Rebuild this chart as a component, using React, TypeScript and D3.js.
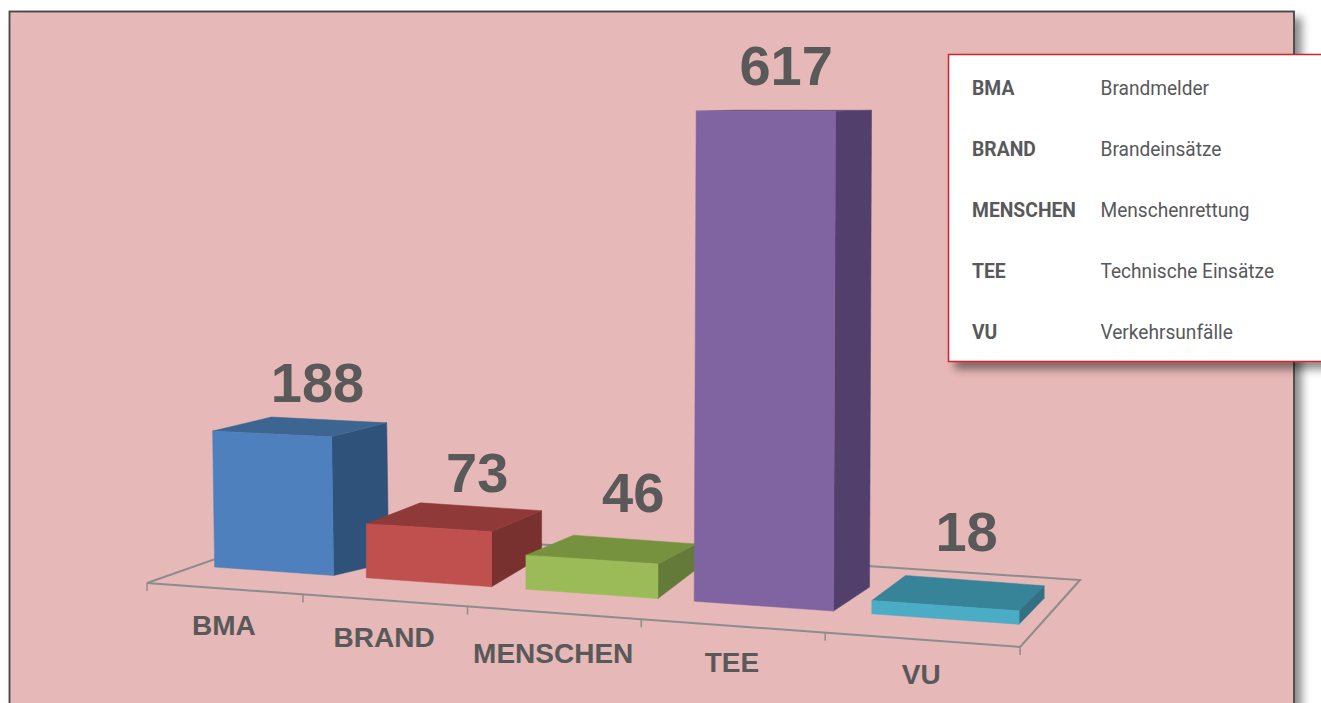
import React from "react";
import * as d3 from "d3";

const categories = ["BMA", "BRAND", "MENSCHEN", "TEE", "VU"];
const values = [188, 73, 46, 617, 18];
const legendCodes = ["BMA", "BRAND", "MENSCHEN", "TEE", "VU"];
const legendNames = ["Brandmelder", "Brandeinsätze", "Menschenrettung", "Technische Einsätze", "Verkehrsunfälle"];
const frontColors = ["#4d80bd", "#c0504d", "#9bbb59", "#8064a2", "#4bacc6"];
const sideColors = ["#2f527b", "#79312f", "#647a39", "#533f6b", "#327082"];
const topColors = ["#3c6591", "#8f3a38", "#76923f", "#5f4a7a", "#378398"];

// per-bar layout offsets (perspective of the original 3D view)
const labelDx = [44, 49, 42, 23, 22];
const labelDy = [-29, -32, -43, -26, -50];
const categoryDy = [46, 47, 50, 46, 44];
const topSkew = [-2, 0, 0, 2, 0];
const depthTopY = [-14, -21, -20, -1, -25];
const depthBottomY = [-13, -30, -29, -24, -26];

const W = 1321;
const H = 703;

// floor's front edge, foreshortened
const frontX = (u: number) => 147 + (759.6 * u) / (1 - 0.13 * u);
const floorFrontY = (x: number) => 583 + (x - 147) * 0.0733;
const barBaseY = (x: number) => 567 + (x - 214) * 0.0712;

const uScale = d3.scaleBand<string>().domain(categories).range([0.088, 0.999]).paddingInner(0.2108).paddingOuter(0);
const heightScale = d3.scaleLinear().domain([0, 73, 188, 617]).range([0, 54, 136, 490]);
const depthX = d3.scaleLinear().domain([0, 0.24, 0.43, 0.62, 0.81, 1]).range([61, 55, 50, 38, 36, 25]);

const poly = (pts: [number, number][]) => (d3.line()(pts) as string) + "Z";
const ticks = [0, 0.2, 0.4, 0.6, 0.8, 1];

export default function App() {
  const fl: [number, number] = [frontX(0), floorFrontY(frontX(0))];
  const fr: [number, number] = [frontX(1), floorFrontY(frontX(1))];
  const br: [number, number] = [1080, 580];
  const bl: [number, number] = [302, 528.6];
  const gray = "#8c8c8c";
  return (
    <svg width={W} height={H} style={{ position: "absolute", left: 0, top: 0, display: "block" }} viewBox={`0 0 ${W} ${H}`}>
      <defs>
        <filter id="sh" x="-5%" y="-5%" width="115%" height="115%">
          <feDropShadow dx="7" dy="7" stdDeviation="4" floodColor="#000" floodOpacity="0.45" />
        </filter>
      </defs>
      <rect width={W} height={H} fill="#fff" />
      <rect x={9.5} y={11.5} width={1284.5} height={760} fill="#e6b8b7" stroke="#444" strokeWidth={1.8} filter="url(#sh)" />
      <path d={poly([fl, fr, br, bl])} fill="none" stroke={gray} strokeWidth={2} />
      {ticks.map((t) => {
        const x = frontX(t);
        const y = floorFrontY(x);
        return <line key={t} x1={x} x2={x} y1={y} y2={y + 8} stroke={gray} strokeWidth={1.5} />;
      })}
      {categories.map((c, i) => {
        const u0 = uScale(c) as number;
        const u1 = u0 + uScale.bandwidth();
        const x0 = frontX(u0);
        const x1 = frontX(u1);
        const h = heightScale(values[i]);
        const yb0 = barBaseY(x0);
        const yb1 = barBaseY(x1);
        const tl: [number, number] = [x0 + topSkew[i], yb0 - h];
        const tr: [number, number] = [x1 + topSkew[i], yb1 - h * 1.02];
        const blF: [number, number] = [x0, yb0];
        const brF: [number, number] = [x1, yb1];
        const bbr: [number, number] = [x1 + depthX(u1), yb1 + depthBottomY[i]];
        const ttl: [number, number] = [tl[0] + depthX(u0), tl[1] + depthTopY[i]];
        const ttr: [number, number] = [tr[0] + depthX(u1), tr[1] + depthTopY[i]];
        return (
          <g key={c}>
            <path d={poly([tr, ttr, bbr, brF])} fill={sideColors[i]} stroke={sideColors[i]} strokeWidth={0.5} />
            <path d={poly([tl, ttl, ttr, tr])} fill={topColors[i]} stroke={topColors[i]} strokeWidth={0.5} />
            <path d={poly([tl, tr, brF, blF])} fill={frontColors[i]} stroke={frontColors[i]} strokeWidth={0.5} />
          </g>
        );
      })}
      <g fontFamily="'Liberation Sans', Arial, sans-serif" fontWeight={700} fill="#595959" textAnchor="middle">
        {categories.map((c, i) => {
          const u0 = uScale(c) as number;
          const x0 = frontX(u0);
          const xc = frontX(u0 + uScale.bandwidth() / 2);
          const top = barBaseY(x0) - heightScale(values[i]);
          return (
            <text key={c} x={xc + labelDx[i]} y={top + labelDy[i]} fontSize={56}>
              {values[i]}
            </text>
          );
        })}
        {categories.map((c, i) => {
          const xm = frontX((ticks[i] + ticks[i + 1]) / 2);
          return (
            <text key={c} x={xm} y={floorFrontY(xm) + categoryDy[i]} fontSize={28}>
              {c}
            </text>
          );
        })}
      </g>
      <rect x={948.5} y={54.5} width={400} height={307} fill="#fff" stroke="#d2232a" strokeWidth={1.5} filter="url(#sh)" />
      <g fontFamily="'Roboto', sans-serif" fontSize={21} fill="#58595b">
        {legendCodes.map((c, i) => (
          <text key={c} transform={`translate(972,${95 + i * 61}) scale(0.92,1)`} fontWeight={700}>
            {c}
          </text>
        ))}
        {legendNames.map((c, i) => (
          <text key={c} transform={`translate(1100.5,${95 + i * 61}) scale(0.91,1)`}>
            {c}
          </text>
        ))}
      </g>
    </svg>
  );
}
